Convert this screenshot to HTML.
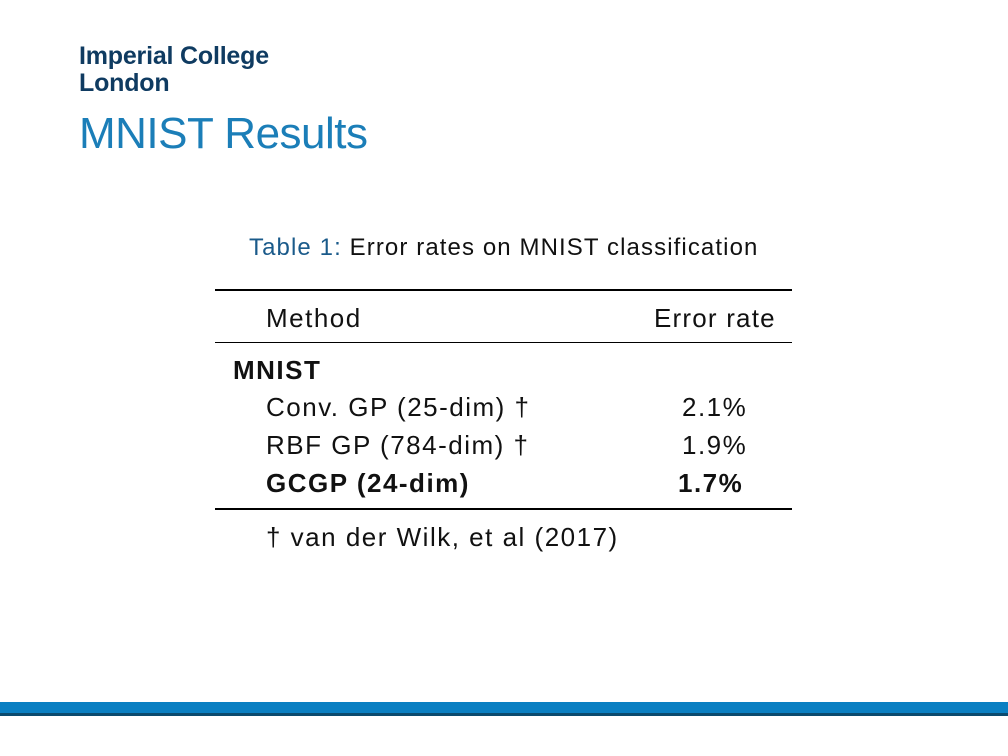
<!DOCTYPE html>
<html><head><meta charset="utf-8"><style>
body{margin:0;width:1008px;height:756px;position:relative;background:#fff;overflow:hidden;font-family:"Liberation Sans",sans-serif;color:#111}
.t{position:absolute;white-space:nowrap;line-height:1}
.b{font-size:26px;letter-spacing:1.5px}
.r{position:absolute;left:215px;width:577px;background:#000}
</style></head><body>
<div class="t" style="left:79px;top:44px;font-size:25px;font-weight:bold;color:#0f3b61;letter-spacing:-0.2px">Imperial College</div>
<div class="t" style="left:79px;top:71px;font-size:25px;font-weight:bold;color:#0f3b61;letter-spacing:-0.2px">London</div>
<div class="t" style="left:79px;top:112px;font-size:44px;color:#1b7eb8;letter-spacing:-0.5px">MNIST Results</div>
<div class="t" style="left:249px;top:236px;font-size:24px;letter-spacing:1.1px"><span style="color:#1a5a8a">Table 1:</span> Error rates on MNIST classification</div>
<div class="r" style="top:289px;height:2px"></div>
<div class="t b" style="left:266px;top:305px">Method</div>
<div class="t b" style="left:654px;top:305px;letter-spacing:1.2px">Error rate</div>
<div class="r" style="top:342px;height:1px"></div>
<div class="t b" style="left:233px;top:357px;font-weight:bold">MNIST</div>
<div class="t b" style="left:266px;top:394px">Conv. GP (25-dim) †</div>
<div class="t b" style="left:682px;top:394px">2.1%</div>
<div class="t b" style="left:266px;top:432px">RBF GP (784-dim) †</div>
<div class="t b" style="left:682px;top:432px">1.9%</div>
<div class="t b" style="left:266px;top:470px;font-weight:bold">GCGP (24-dim)</div>
<div class="t b" style="left:678px;top:470px;font-weight:bold">1.7%</div>
<div class="r" style="top:508px;height:2px"></div>
<div class="t b" style="left:266px;top:524px">† van der Wilk, et al (2017)</div>
<div style="position:absolute;left:0;top:702px;width:1008px;height:11px;background:#0a7fc2"></div>
<div style="position:absolute;left:0;top:713px;width:1008px;height:3px;background:#0b4a6e"></div>
</body></html>
